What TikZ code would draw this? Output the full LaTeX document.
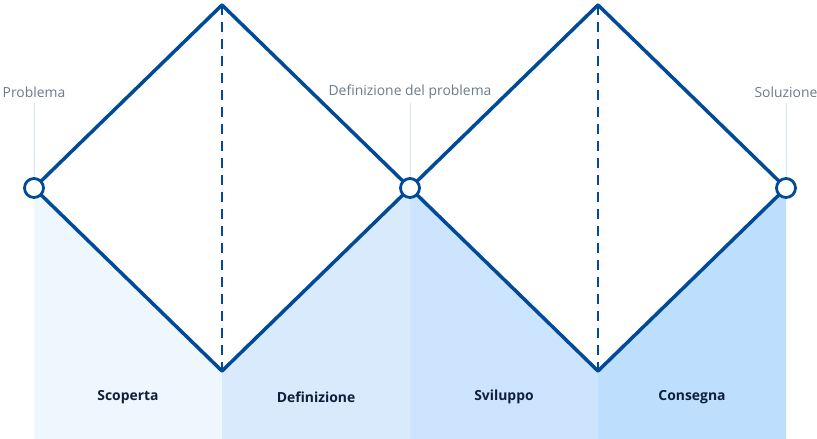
\documentclass[tikz,border=0pt]{standalone}
\usepackage{fontspec}
\setmainfont{Open Sans}
\definecolor{lineblue}{HTML}{004A98}
\definecolor{fillA}{HTML}{EEF6FE}
\definecolor{fillB}{HTML}{D9EAFC}
\definecolor{fillC}{HTML}{CCE4FD}
\definecolor{fillD}{HTML}{BDDEFC}
\definecolor{labelgray}{HTML}{6B7A8B}
\definecolor{guide}{HTML}{D6E4F0}
\definecolor{phasetext}{HTML}{0F1E3C}
\tikzset{
  diamondline/.style={draw=lineblue, line width=3.5pt, line join=round, line cap=round},
  midline/.style={draw=lineblue, line width=2pt, dash pattern=on 10pt off 7pt},
  pointcircle/.style={circle, draw=lineblue, fill=white, line width=2.8pt, minimum size=19pt, inner sep=0pt},
  toplabel/.style={text=labelgray, font=\fontsize{13.9}{16}\selectfont, inner sep=0pt},
  phaselabel/.style={text=phasetext, font=\fontsize{13.9}{16}\selectfont\bfseries, inner sep=0pt},
  guideline/.style={draw=guide, line width=1pt}
}
\begin{document}
\begin{tikzpicture}[x=1pt,y=-1pt]
\useasboundingbox (0,0) rectangle (817,439);
% fills
\fill[fillA] (34,188) -- (222,371) -- (222,439) -- (34,439) -- cycle;
\fill[fillB] (222,371) -- (410,188) -- (410,439) -- (222,439) -- cycle;
\fill[fillC] (410,188) -- (598,371) -- (598,439) -- (410,439) -- cycle;
\fill[fillD] (598,371) -- (786,188) -- (786,439) -- (598,439) -- cycle;
% coordinates
\coordinate (t1) at (222,5);
\coordinate (b1) at (222,371);
\coordinate (t2) at (598,5);
\coordinate (b2) at (598,371);
% labels
\node[toplabel] (lp) at (34,92) {Problema};
\node[toplabel] (ld) at (410,92) {Definizione del problema};
\node[toplabel] (ls) at (786,92) {Soluzione};
% guide lines
\coordinate (g1) at (34,103);
\coordinate (g2) at (410,103);
\coordinate (g3) at (786,103);
\coordinate (c1) at (34,188);
\coordinate (c2) at (410,188);
\coordinate (c3) at (786,188);
\draw[guideline] (g1) -- (c1);
\draw[guideline] (g2) -- (c2);
\draw[guideline] (g3) -- (c3);
% dashed lines
\draw[midline] (t1) -- (b1);
\draw[midline] (t2) -- (b2);
% diamonds
\draw[diamondline] (c1) -- (t1) -- (c2) -- (b1) -- cycle;
\draw[diamondline] (c2) -- (t2) -- (c3) -- (b2) -- cycle;
% circles
\node[pointcircle] (p1) at (c1) {};
\node[pointcircle] (p2) at (c2) {};
\node[pointcircle] (p3) at (c3) {};
% phase labels
\node[phaselabel] (s1) at (128,397) {Scoperta};
\node[phaselabel] (s2) at (316,397) {Definizione};
\node[phaselabel] (s3) at (504,397) {Sviluppo};
\node[phaselabel] (s4) at (692,397) {Consegna};
\end{tikzpicture}
\end{document}
